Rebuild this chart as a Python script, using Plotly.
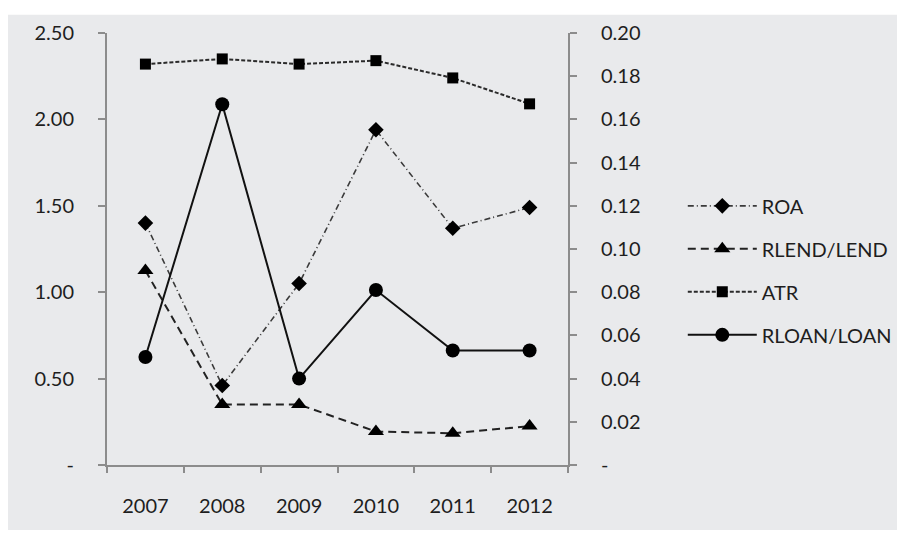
import plotly.graph_objects as go

years = ["2007", "2008", "2009", "2010", "2011", "2012"]
roa = [1.40, 0.46, 1.05, 1.94, 1.37, 1.49]
atr = [2.32, 2.35, 2.32, 2.34, 2.24, 2.09]
rlend = [0.090, 0.028, 0.028, 0.0155, 0.0147, 0.018]
rloan = [0.050, 0.167, 0.040, 0.081, 0.053, 0.053]

left_ticks = [0, 0.5, 1.0, 1.5, 2.0, 2.5]
left_text = ["-", "0.50", "1.00", "1.50", "2.00", "2.50"]
right_ticks = [0, 0.02, 0.04, 0.06, 0.08, 0.10, 0.12, 0.14, 0.16, 0.18, 0.20]
right_text = ["-", "0.02", "0.04", "0.06", "0.08", "0.10", "0.12", "0.14", "0.16", "0.18", "0.20"]

FONT = "Lato"
TXT = "#1e1e1e"
AX = "#8c8c8c"

fig = go.Figure()
fig.add_trace(go.Scatter(x=years, y=roa, name="ROA", mode="lines+markers", legendgroup="a",
                         line=dict(color="#3a3a3a", width=1.6, dash="6px,3px,1px,3px"),
                         marker=dict(symbol="diamond", size=12, color="black")))
fig.add_trace(go.Scatter(x=years, y=rlend, name="RLEND/LEND", mode="lines+markers", legendgroup="b",
                         yaxis="y2",
                         line=dict(color="#222222", width=2, dash="8px,5px"),
                         marker=dict(symbol="triangle-up", size=14, color="black")))
fig.add_trace(go.Scatter(x=years, y=atr, name="ATR", mode="lines+markers", legendgroup="c",
                         line=dict(color="#2a2a2a", width=2, dash="4px,2px"),
                         marker=dict(symbol="square", size=11, color="black")))
fig.add_trace(go.Scatter(x=years, y=rloan, name="RLOAN/LOAN", mode="lines+markers", legendgroup="d",
                         yaxis="y2",
                         line=dict(color="#111111", width=2),
                         marker=dict(symbol="circle", size=14, color="black")))

# page has an 8px body margin; plot area on screen x 107..568, y 26..465
fig.update_layout(
    width=911, height=537,
    margin=dict(l=99, r=351, t=18, b=80),
    paper_bgcolor="white",
    plot_bgcolor="rgba(0,0,0,0)",
    font=dict(family=FONT, size=20, color=TXT),
    showlegend=True,
    legend=dict(x=1.249, y=0.645, xanchor="left", yanchor="top",
                bgcolor="rgba(0,0,0,0)", tracegroupgap=14, itemwidth=69,
                font=dict(family=FONT, size=20, color=TXT)),
    xaxis=dict(type="category", range=[-0.5, 5.5], tickson="boundaries",
               ticks="outside", ticklen=6, tickwidth=2, tickcolor=AX,
               showline=True, linecolor=AX, linewidth=2, showgrid=False, zeroline=False,
               ticklabelstandoff=22, tickfont=dict(family=FONT, size=20, color=TXT)),
    yaxis=dict(range=[0, 2.5], tickvals=left_ticks, ticktext=left_text,
               ticks="outside", ticklen=7, tickwidth=2, tickcolor=AX,
               showline=True, linecolor=AX, linewidth=2, showgrid=False, zeroline=False,
               ticklabelstandoff=20, ticklabeloverflow="allow",
               tickfont=dict(family=FONT, size=20, color=TXT)),
    yaxis2=dict(range=[0, 0.2], tickvals=right_ticks, ticktext=right_text,
                overlaying="y", side="right",
                ticks="outside", ticklen=7, tickwidth=2, tickcolor=AX,
                showline=True, linecolor=AX, linewidth=2, showgrid=False, zeroline=False,
                ticklabelstandoff=20, ticklabeloverflow="allow",
                tickfont=dict(family=FONT, size=20, color=TXT)),
    shapes=[dict(type="rect", xref="paper", yref="paper",
                 x0=-0.2148, x1=1.7137, y0=-0.1505, y1=1.042,
                 fillcolor="#e9eaec", line=dict(width=0), layer="below")],
)

fig.write_html("out.html")
